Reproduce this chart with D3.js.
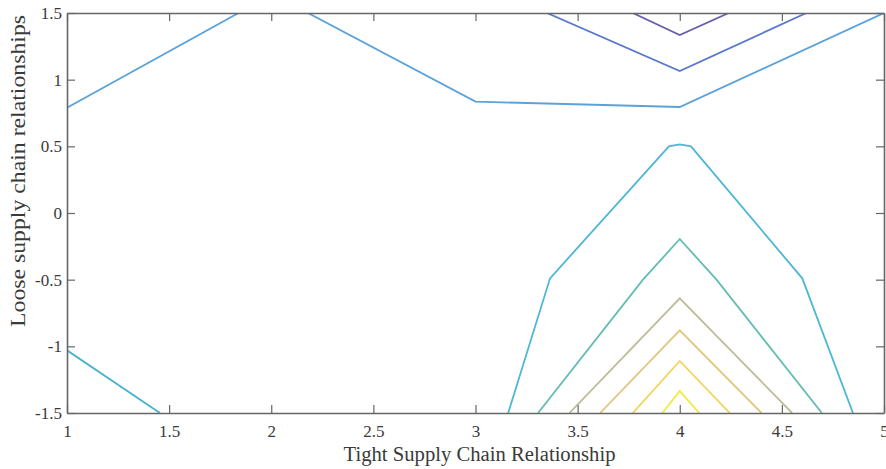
<!DOCTYPE html>
<meta charset="utf-8">
<script src="https://d3js.org/d3.v7.min.js"></script>
<style>
  body { margin: 0; background: #fff; }
  text { font-family: "Liberation Serif", "Times New Roman", serif; fill: #3a3a3a; }
</style>
<div id="chart"></div>
<script>
// axis ticks
const xTicks = [1, 1.5, 2, 2.5, 3, 3.5, 4, 4.5, 5];
const yTicks = [-1.5, -1, -0.5, 0, 0.5, 1, 1.5];

// contour lines, [x, y] in data units, lowest level first
const contourPurple = [[3.77, 1.5], [4, 1.335], [4.24, 1.5]];
const contourBlue = [[3.35, 1.5], [4, 1.065], [4.62, 1.5]];
const contourLightBlueA = [[1, 0.79], [1.84, 1.5]];
const contourLightBlueB = [[2.18, 1.5], [3, 0.835], [4, 0.795], [5, 1.5]];
const contourCyanA = [[1, -1.03], [1.455, -1.5]];
const contourCyanB = [[3.16, -1.5], [3.365, -0.49], [3.947, 0.5], [4, 0.515], [4.055, 0.5], [4.6, -0.49], [4.848, -1.5]];
const contourTeal = [[3.306, -1.5], [3.82, -0.5], [4, -0.195], [4.18, -0.5], [4.696, -1.5]];
const contourKhaki = [[3.46, -1.5], [4, -0.64], [4.55, -1.5]];
const contourTan = [[3.61, -1.5], [4, -0.88], [4.4, -1.5]];
const contourGold = [[3.77, -1.5], [4, -1.11], [4.245, -1.5]];
const contourYellow = [[3.915, -1.5], [4, -1.335], [4.095, -1.5]];

const contours = [
  {pts: contourPurple, color: "#6a5ea8"},
  {pts: contourBlue, color: "#5a78cc"},
  {pts: contourLightBlueA, color: "#5aa2da"},
  {pts: contourLightBlueB, color: "#5aa2da"},
  {pts: contourCyanA, color: "#48b2cc"},
  {pts: contourCyanB, color: "#4eb6d6"},
  {pts: contourTeal, color: "#62bdb2"},
  {pts: contourKhaki, color: "#bdbb98"},
  {pts: contourTan, color: "#e0c67e"},
  {pts: contourGold, color: "#f2d45a"},
  {pts: contourYellow, color: "#f2ea3c"}
];

const W = 886, H = 469;
const margin = {top: 13, right: 2, bottom: 56, left: 67};
const width = W - margin.left - margin.right,
      height = H - margin.top - margin.bottom;

const svg = d3.select("#chart").append("svg")
  .attr("width", W).attr("height", H);
const g = svg.append("g").attr("transform", `translate(${margin.left},${margin.top})`);

const x = d3.scaleLinear().domain([1, 5]).range([0, width]);
const y = d3.scaleLinear().domain([-1.5, 1.5]).range([height, 0]);

g.append("clipPath").attr("id", "clip")
  .append("rect").attr("width", width).attr("height", height);

// contour lines
const line = d3.line().x(d => x(d[0])).y(d => y(d[1]));
g.append("g").attr("clip-path", "url(#clip)")
  .selectAll("path").data(contours).join("path")
  .attr("d", d => line(d.pts))
  .attr("fill", "none")
  .attr("stroke", d => d.color)
  .attr("stroke-width", 1.8)
  .attr("stroke-linejoin", "miter");

// axes, MATLAB style: ticks inside on all four sides
const tickLen = 8;
const fmt = d => String(d);
const axColor = "#666";

const xb = g.append("g").attr("transform", `translate(0,${height})`)
  .call(d3.axisBottom(x).tickValues(xTicks).tickFormat(fmt).tickSizeInner(-tickLen).tickSizeOuter(0).tickPadding(12));
const xt = g.append("g")
  .call(d3.axisTop(x).tickValues(xTicks).tickFormat("").tickSizeInner(-tickLen).tickSizeOuter(0));
const yl = g.append("g")
  .call(d3.axisLeft(y).tickValues(yTicks).tickFormat(fmt).tickSizeInner(-tickLen).tickSizeOuter(0).tickPadding(5));
const yr = g.append("g").attr("transform", `translate(${width},0)`)
  .call(d3.axisRight(y).tickValues(yTicks).tickFormat("").tickSizeInner(-tickLen).tickSizeOuter(0));

[xb, xt, yl, yr].forEach(a => {
  a.selectAll("path.domain").attr("stroke", axColor).attr("stroke-width", 1.6);
  a.selectAll(".tick line").attr("stroke", axColor).attr("stroke-width", 1.2);
  a.selectAll(".tick text").attr("fill", "#3a3a3a")
    .style("font-family", '"Liberation Serif", serif').style("font-size", "17px");
});

// axis labels
g.append("text")
  .attr("x", width / 2 + 4).attr("y", height + 48)
  .attr("text-anchor", "middle")
  .attr("textLength", 272).attr("lengthAdjust", "spacingAndGlyphs")
  .style("font-size", "20.5px")
  .text("Tight Supply Chain Relationship");

g.append("text")
  .attr("transform", `translate(${-42},${158}) rotate(-90)`)
  .attr("text-anchor", "middle")
  .attr("textLength", 312).attr("lengthAdjust", "spacingAndGlyphs")
  .style("font-size", "21px")
  .text("Loose supply chain relationships");
</script>
